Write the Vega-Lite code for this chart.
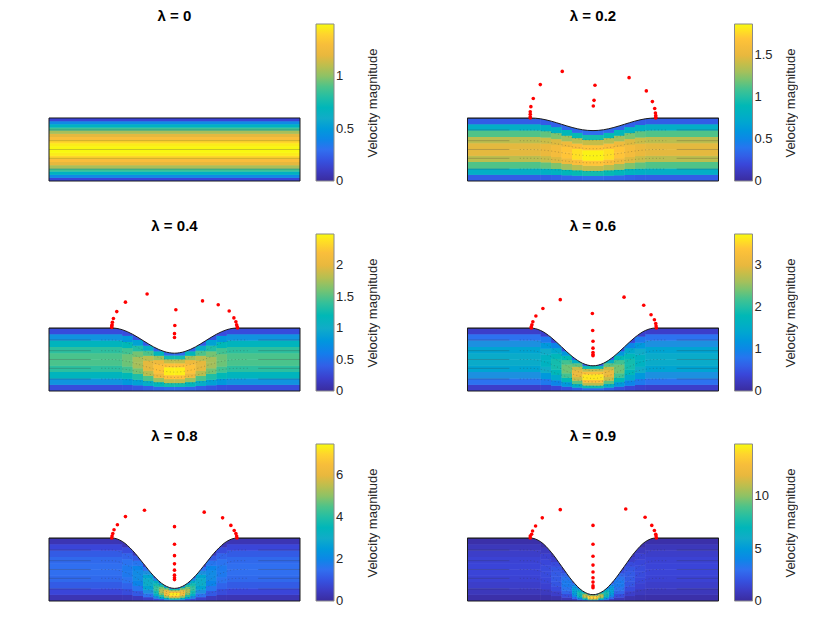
{"$schema":"https://vega.github.io/schema/vega-lite/v6.json","padding":{"left":47,"top":8,"right":0,"bottom":0},"bounds":"flush","columns":2,"spacing":{"row":53,"column":167.5},"resolve":{"scale":{"color":"independent"},"legend":{"color":"independent"}},
"config":{"view":{"stroke":null},"font":"Liberation Sans","title":{"font":"Liberation Sans","fontSize":15,"fontWeight":"bold","offset":0.1},"axisY":{"labels":false,"ticks":false,"domain":false,"grid":false,"titleAngle":270,"titlePadding":79,"titleFont":"Liberation Sans","titleFontSize":13,"titleFontWeight":"normal","titleColor":"#262626"},"legend":{"orient":"none","legendX":267,"legendY":0,"gradientLength":157,"gradientThickness":18,"gradientStrokeColor":"#8a8a8a","gradientStrokeWidth":1,"labelFont":"Liberation Sans","labelFontSize":13,"labelColor":"#262626","labelOffset":10}},
"datasets":{
"cells0":[{"x":-12,"x2":12,"y":0,"y2":5,"v":0.146},{"x":-12,"x2":12,"y":5,"y2":10,"v":0.416},{"x":-12,"x2":12,"y":10,"y2":15,"v":0.656},{"x":-12,"x2":12,"y":15,"y2":20,"v":0.866},{"x":-12,"x2":12,"y":20,"y2":25,"v":1.046},{"x":-12,"x2":12,"y":25,"y2":30,"v":1.196},{"x":-12,"x2":12,"y":30,"y2":35,"v":1.316},{"x":-12,"x2":12,"y":35,"y2":40,"v":1.406},{"x":-12,"x2":12,"y":40,"y2":45,"v":1.466},{"x":-12,"x2":12,"y":45,"y2":50,"v":1.496},{"x":-12,"x2":12,"y":50,"y2":55,"v":1.496},{"x":-12,"x2":12,"y":55,"y2":60,"v":1.466},{"x":-12,"x2":12,"y":60,"y2":65,"v":1.406},{"x":-12,"x2":12,"y":65,"y2":70,"v":1.316},{"x":-12,"x2":12,"y":70,"y2":75,"v":1.196},{"x":-12,"x2":12,"y":75,"y2":80,"v":1.046},{"x":-12,"x2":12,"y":80,"y2":85,"v":0.866},{"x":-12,"x2":12,"y":85,"y2":90,"v":0.656},{"x":-12,"x2":12,"y":90,"y2":95,"v":0.416},{"x":-12,"x2":12,"y":95,"y2":100,"v":0.146}],
"cells2":[
{"x":-12,"x2":-5,"y":0,"y2":10,"v":0.29},{"x":-12,"x2":-5,"y":10,"y2":20,"v":0.77},{"x":-12,"x2":-5,"y":20,"y2":30,"v":1.13},{"x":-12,"x2":-5,"y":30,"y2":40,"v":1.37},{"x":-12,"x2":-5,"y":40,"y2":50,"v":1.49},{"x":-12,"x2":-5,"y":50,"y2":60,"v":1.49},{"x":-12,"x2":-5,"y":60,"y2":70,"v":1.37},{"x":-12,"x2":-5,"y":70,"y2":80,"v":1.13},{"x":-12,"x2":-5,"y":80,"y2":90,"v":0.77},{"x":-12,"x2":-5,"y":90,"y2":100,"v":0.29},
{"x":5,"x2":12,"y":0,"y2":10,"v":0.29},{"x":5,"x2":12,"y":10,"y2":20,"v":0.77},{"x":5,"x2":12,"y":20,"y2":30,"v":1.13},{"x":5,"x2":12,"y":30,"y2":40,"v":1.37},{"x":5,"x2":12,"y":40,"y2":50,"v":1.49},{"x":5,"x2":12,"y":50,"y2":60,"v":1.49},{"x":5,"x2":12,"y":60,"y2":70,"v":1.37},{"x":5,"x2":12,"y":70,"y2":80,"v":1.13},{"x":5,"x2":12,"y":80,"y2":90,"v":0.77},{"x":5,"x2":12,"y":90,"y2":100,"v":0.29},
{"x":-5,"x2":-4,"y":0,"y2":9.9,"v":0.29},{"x":-5,"x2":-4,"y":9.9,"y2":19.7,"v":0.79},{"x":-5,"x2":-4,"y":19.7,"y2":29.6,"v":1.16},{"x":-5,"x2":-4,"y":29.6,"y2":39.5,"v":1.41},{"x":-5,"x2":-4,"y":39.5,"y2":49.4,"v":1.53},{"x":-5,"x2":-4,"y":49.4,"y2":59.2,"v":1.53},{"x":-5,"x2":-4,"y":59.2,"y2":69.1,"v":1.41},{"x":-5,"x2":-4,"y":69.1,"y2":79,"v":1.16},{"x":-5,"x2":-4,"y":79,"y2":88.8,"v":0.79},{"x":-5,"x2":-4,"y":88.8,"y2":98.7,"v":0.29},
{"x":4,"x2":5,"y":0,"y2":9.9,"v":0.29},{"x":4,"x2":5,"y":9.9,"y2":19.7,"v":0.79},{"x":4,"x2":5,"y":19.7,"y2":29.6,"v":1.16},{"x":4,"x2":5,"y":29.6,"y2":39.5,"v":1.41},{"x":4,"x2":5,"y":39.5,"y2":49.4,"v":1.53},{"x":4,"x2":5,"y":49.4,"y2":59.2,"v":1.53},{"x":4,"x2":5,"y":59.2,"y2":69.1,"v":1.41},{"x":4,"x2":5,"y":69.1,"y2":79,"v":1.16},{"x":4,"x2":5,"y":79,"y2":88.8,"v":0.79},{"x":4,"x2":5,"y":88.8,"y2":98.7,"v":0.29},
{"x":-4,"x2":-3,"y":0,"y2":9.5,"v":0.31},{"x":-4,"x2":-3,"y":9.5,"y2":19,"v":0.83},{"x":-4,"x2":-3,"y":19,"y2":28.5,"v":1.22},{"x":-4,"x2":-3,"y":28.5,"y2":38,"v":1.47},{"x":-4,"x2":-3,"y":38,"y2":47.5,"v":1.6},{"x":-4,"x2":-3,"y":47.5,"y2":57,"v":1.6},{"x":-4,"x2":-3,"y":57,"y2":66.5,"v":1.47},{"x":-4,"x2":-3,"y":66.5,"y2":76,"v":1.22},{"x":-4,"x2":-3,"y":76,"y2":85.5,"v":0.83},{"x":-4,"x2":-3,"y":85.5,"y2":95,"v":0.31},
{"x":3,"x2":4,"y":0,"y2":9.5,"v":0.31},{"x":3,"x2":4,"y":9.5,"y2":19,"v":0.83},{"x":3,"x2":4,"y":19,"y2":28.5,"v":1.22},{"x":3,"x2":4,"y":28.5,"y2":38,"v":1.47},{"x":3,"x2":4,"y":38,"y2":47.5,"v":1.6},{"x":3,"x2":4,"y":47.5,"y2":57,"v":1.6},{"x":3,"x2":4,"y":57,"y2":66.5,"v":1.47},{"x":3,"x2":4,"y":66.5,"y2":76,"v":1.22},{"x":3,"x2":4,"y":76,"y2":85.5,"v":0.83},{"x":3,"x2":4,"y":85.5,"y2":95,"v":0.31},
{"x":-3,"x2":-2,"y":0,"y2":9,"v":0.33},{"x":-3,"x2":-2,"y":9,"y2":18,"v":0.88},{"x":-3,"x2":-2,"y":18,"y2":27,"v":1.29},{"x":-3,"x2":-2,"y":27,"y2":36,"v":1.56},{"x":-3,"x2":-2,"y":36,"y2":45,"v":1.7},{"x":-3,"x2":-2,"y":45,"y2":54,"v":1.7},{"x":-3,"x2":-2,"y":54,"y2":63,"v":1.56},{"x":-3,"x2":-2,"y":63,"y2":72,"v":1.29},{"x":-3,"x2":-2,"y":72,"y2":81,"v":0.88},{"x":-3,"x2":-2,"y":81,"y2":90,"v":0.33},
{"x":2,"x2":3,"y":0,"y2":9,"v":0.33},{"x":2,"x2":3,"y":9,"y2":18,"v":0.88},{"x":2,"x2":3,"y":18,"y2":27,"v":1.29},{"x":2,"x2":3,"y":27,"y2":36,"v":1.56},{"x":2,"x2":3,"y":36,"y2":45,"v":1.7},{"x":2,"x2":3,"y":45,"y2":54,"v":1.7},{"x":2,"x2":3,"y":54,"y2":63,"v":1.56},{"x":2,"x2":3,"y":63,"y2":72,"v":1.29},{"x":2,"x2":3,"y":72,"y2":81,"v":0.88},{"x":2,"x2":3,"y":81,"y2":90,"v":0.33},
{"x":-2,"x2":-1,"y":0,"y2":8.5,"v":0.34},{"x":-2,"x2":-1,"y":8.5,"y2":17,"v":0.92},{"x":-2,"x2":-1,"y":17,"y2":25.5,"v":1.36},{"x":-2,"x2":-1,"y":25.5,"y2":34,"v":1.65},{"x":-2,"x2":-1,"y":34,"y2":42.5,"v":1.79},{"x":-2,"x2":-1,"y":42.5,"y2":51,"v":1.79},{"x":-2,"x2":-1,"y":51,"y2":59.5,"v":1.65},{"x":-2,"x2":-1,"y":59.5,"y2":68,"v":1.36},{"x":-2,"x2":-1,"y":68,"y2":76.5,"v":0.92},{"x":-2,"x2":-1,"y":76.5,"y2":85,"v":0.34},
{"x":1,"x2":2,"y":0,"y2":8.5,"v":0.34},{"x":1,"x2":2,"y":8.5,"y2":17,"v":0.92},{"x":1,"x2":2,"y":17,"y2":25.5,"v":1.36},{"x":1,"x2":2,"y":25.5,"y2":34,"v":1.65},{"x":1,"x2":2,"y":34,"y2":42.5,"v":1.79},{"x":1,"x2":2,"y":42.5,"y2":51,"v":1.79},{"x":1,"x2":2,"y":51,"y2":59.5,"v":1.65},{"x":1,"x2":2,"y":59.5,"y2":68,"v":1.36},{"x":1,"x2":2,"y":68,"y2":76.5,"v":0.92},{"x":1,"x2":2,"y":76.5,"y2":85,"v":0.34},
{"x":-1,"x2":0,"y":0,"y2":8.1,"v":0.36},{"x":-1,"x2":0,"y":8.1,"y2":16.3,"v":0.95},{"x":-1,"x2":0,"y":16.3,"y2":24.4,"v":1.4},{"x":-1,"x2":0,"y":24.4,"y2":32.5,"v":1.7},{"x":-1,"x2":0,"y":32.5,"y2":40.7,"v":1.85},{"x":-1,"x2":0,"y":40.7,"y2":48.8,"v":1.85},{"x":-1,"x2":0,"y":48.8,"y2":56.9,"v":1.7},{"x":-1,"x2":0,"y":56.9,"y2":65,"v":1.4},{"x":-1,"x2":0,"y":65,"y2":73.2,"v":0.95},{"x":-1,"x2":0,"y":73.2,"y2":81.3,"v":0.36},
{"x":0,"x2":1,"y":0,"y2":8.1,"v":0.36},{"x":0,"x2":1,"y":8.1,"y2":16.3,"v":0.95},{"x":0,"x2":1,"y":16.3,"y2":24.4,"v":1.4},{"x":0,"x2":1,"y":24.4,"y2":32.5,"v":1.7},{"x":0,"x2":1,"y":32.5,"y2":40.7,"v":1.85},{"x":0,"x2":1,"y":40.7,"y2":48.8,"v":1.85},{"x":0,"x2":1,"y":48.8,"y2":56.9,"v":1.7},{"x":0,"x2":1,"y":56.9,"y2":65,"v":1.4},{"x":0,"x2":1,"y":65,"y2":73.2,"v":0.95},{"x":0,"x2":1,"y":73.2,"y2":81.3,"v":0.36}],
"cells4":[
{"x":-12,"x2":-5,"y":0,"y2":10,"v":0.29},{"x":-12,"x2":-5,"y":10,"y2":20,"v":0.77},{"x":-12,"x2":-5,"y":20,"y2":30,"v":1.13},{"x":-12,"x2":-5,"y":30,"y2":40,"v":1.37},{"x":-12,"x2":-5,"y":40,"y2":50,"v":1.49},{"x":-12,"x2":-5,"y":50,"y2":60,"v":1.49},{"x":-12,"x2":-5,"y":60,"y2":70,"v":1.37},{"x":-12,"x2":-5,"y":70,"y2":80,"v":1.13},{"x":-12,"x2":-5,"y":80,"y2":90,"v":0.77},{"x":-12,"x2":-5,"y":90,"y2":100,"v":0.29},
{"x":5,"x2":12,"y":0,"y2":10,"v":0.29},{"x":5,"x2":12,"y":10,"y2":20,"v":0.77},{"x":5,"x2":12,"y":20,"y2":30,"v":1.13},{"x":5,"x2":12,"y":30,"y2":40,"v":1.37},{"x":5,"x2":12,"y":40,"y2":50,"v":1.49},{"x":5,"x2":12,"y":50,"y2":60,"v":1.49},{"x":5,"x2":12,"y":60,"y2":70,"v":1.37},{"x":5,"x2":12,"y":70,"y2":80,"v":1.13},{"x":5,"x2":12,"y":80,"y2":90,"v":0.77},{"x":5,"x2":12,"y":90,"y2":100,"v":0.29},
{"x":-5,"x2":-4,"y":0,"y2":9.7,"v":0.3},{"x":-5,"x2":-4,"y":9.7,"y2":19.5,"v":0.81},{"x":-5,"x2":-4,"y":19.5,"y2":29.2,"v":1.19},{"x":-5,"x2":-4,"y":29.2,"y2":38.9,"v":1.45},{"x":-5,"x2":-4,"y":38.9,"y2":48.7,"v":1.58},{"x":-5,"x2":-4,"y":48.7,"y2":58.4,"v":1.58},{"x":-5,"x2":-4,"y":58.4,"y2":68.1,"v":1.45},{"x":-5,"x2":-4,"y":68.1,"y2":77.8,"v":1.19},{"x":-5,"x2":-4,"y":77.8,"y2":87.6,"v":0.81},{"x":-5,"x2":-4,"y":87.6,"y2":97.3,"v":0.3},
{"x":4,"x2":5,"y":0,"y2":9.7,"v":0.3},{"x":4,"x2":5,"y":9.7,"y2":19.5,"v":0.81},{"x":4,"x2":5,"y":19.5,"y2":29.2,"v":1.19},{"x":4,"x2":5,"y":29.2,"y2":38.9,"v":1.45},{"x":4,"x2":5,"y":38.9,"y2":48.7,"v":1.58},{"x":4,"x2":5,"y":48.7,"y2":58.4,"v":1.58},{"x":4,"x2":5,"y":58.4,"y2":68.1,"v":1.45},{"x":4,"x2":5,"y":68.1,"y2":77.8,"v":1.19},{"x":4,"x2":5,"y":77.8,"y2":87.6,"v":0.81},{"x":4,"x2":5,"y":87.6,"y2":97.3,"v":0.3},
{"x":-4,"x2":-3,"y":0,"y2":9,"v":0.33},{"x":-4,"x2":-3,"y":9,"y2":18,"v":0.9},{"x":-4,"x2":-3,"y":18,"y2":27,"v":1.32},{"x":-4,"x2":-3,"y":27,"y2":36,"v":1.6},{"x":-4,"x2":-3,"y":36,"y2":45,"v":1.74},{"x":-4,"x2":-3,"y":45,"y2":54,"v":1.74},{"x":-4,"x2":-3,"y":54,"y2":63,"v":1.6},{"x":-4,"x2":-3,"y":63,"y2":72,"v":1.32},{"x":-4,"x2":-3,"y":72,"y2":81,"v":0.9},{"x":-4,"x2":-3,"y":81,"y2":90,"v":0.33},
{"x":3,"x2":4,"y":0,"y2":9,"v":0.33},{"x":3,"x2":4,"y":9,"y2":18,"v":0.9},{"x":3,"x2":4,"y":18,"y2":27,"v":1.32},{"x":3,"x2":4,"y":27,"y2":36,"v":1.6},{"x":3,"x2":4,"y":36,"y2":45,"v":1.74},{"x":3,"x2":4,"y":45,"y2":54,"v":1.74},{"x":3,"x2":4,"y":54,"y2":63,"v":1.6},{"x":3,"x2":4,"y":63,"y2":72,"v":1.32},{"x":3,"x2":4,"y":72,"y2":81,"v":0.9},{"x":3,"x2":4,"y":81,"y2":90,"v":0.33},
{"x":-3,"x2":-2,"y":0,"y2":8,"v":0.38},{"x":-3,"x2":-2,"y":8,"y2":16,"v":1.02},{"x":-3,"x2":-2,"y":16,"y2":24,"v":1.5},{"x":-3,"x2":-2,"y":24,"y2":32,"v":1.82},{"x":-3,"x2":-2,"y":32,"y2":40,"v":1.99},{"x":-3,"x2":-2,"y":40,"y2":48,"v":1.99},{"x":-3,"x2":-2,"y":48,"y2":56,"v":1.82},{"x":-3,"x2":-2,"y":56,"y2":64,"v":1.5},{"x":-3,"x2":-2,"y":64,"y2":72,"v":1.02},{"x":-3,"x2":-2,"y":72,"y2":80,"v":0.38},
{"x":2,"x2":3,"y":0,"y2":8,"v":0.38},{"x":2,"x2":3,"y":8,"y2":16,"v":1.02},{"x":2,"x2":3,"y":16,"y2":24,"v":1.5},{"x":2,"x2":3,"y":24,"y2":32,"v":1.82},{"x":2,"x2":3,"y":32,"y2":40,"v":1.99},{"x":2,"x2":3,"y":40,"y2":48,"v":1.99},{"x":2,"x2":3,"y":48,"y2":56,"v":1.82},{"x":2,"x2":3,"y":56,"y2":64,"v":1.5},{"x":2,"x2":3,"y":64,"y2":72,"v":1.02},{"x":2,"x2":3,"y":72,"y2":80,"v":0.38},
{"x":-2,"x2":-1,"y":0,"y2":7,"v":0.43},{"x":-2,"x2":-1,"y":7,"y2":14,"v":1.16},{"x":-2,"x2":-1,"y":14,"y2":21,"v":1.71},{"x":-2,"x2":-1,"y":21,"y2":28,"v":2.07},{"x":-2,"x2":-1,"y":28,"y2":35,"v":2.26},{"x":-2,"x2":-1,"y":35,"y2":42,"v":2.26},{"x":-2,"x2":-1,"y":42,"y2":49,"v":2.07},{"x":-2,"x2":-1,"y":49,"y2":56,"v":1.71},{"x":-2,"x2":-1,"y":56,"y2":63,"v":1.16},{"x":-2,"x2":-1,"y":63,"y2":70,"v":0.43},
{"x":1,"x2":2,"y":0,"y2":7,"v":0.43},{"x":1,"x2":2,"y":7,"y2":14,"v":1.16},{"x":1,"x2":2,"y":14,"y2":21,"v":1.71},{"x":1,"x2":2,"y":21,"y2":28,"v":2.07},{"x":1,"x2":2,"y":28,"y2":35,"v":2.26},{"x":1,"x2":2,"y":35,"y2":42,"v":2.26},{"x":1,"x2":2,"y":42,"y2":49,"v":2.07},{"x":1,"x2":2,"y":49,"y2":56,"v":1.71},{"x":1,"x2":2,"y":56,"y2":63,"v":1.16},{"x":1,"x2":2,"y":63,"y2":70,"v":0.43},
{"x":-1,"x2":0,"y":0,"y2":6.3,"v":0.47},{"x":-1,"x2":0,"y":6.3,"y2":12.5,"v":1.26},{"x":-1,"x2":0,"y":12.5,"y2":18.8,"v":1.85},{"x":-1,"x2":0,"y":18.8,"y2":25.1,"v":2.25},{"x":-1,"x2":0,"y":25.1,"y2":31.4,"v":2.45},{"x":-1,"x2":0,"y":31.4,"y2":37.6,"v":2.45},{"x":-1,"x2":0,"y":37.6,"y2":43.9,"v":2.25},{"x":-1,"x2":0,"y":43.9,"y2":50.2,"v":1.85},{"x":-1,"x2":0,"y":50.2,"y2":56.4,"v":1.26},{"x":-1,"x2":0,"y":56.4,"y2":62.7,"v":0.47},
{"x":0,"x2":1,"y":0,"y2":6.3,"v":0.47},{"x":0,"x2":1,"y":6.3,"y2":12.5,"v":1.26},{"x":0,"x2":1,"y":12.5,"y2":18.8,"v":1.85},{"x":0,"x2":1,"y":18.8,"y2":25.1,"v":2.25},{"x":0,"x2":1,"y":25.1,"y2":31.4,"v":2.45},{"x":0,"x2":1,"y":31.4,"y2":37.6,"v":2.45},{"x":0,"x2":1,"y":37.6,"y2":43.9,"v":2.25},{"x":0,"x2":1,"y":43.9,"y2":50.2,"v":1.85},{"x":0,"x2":1,"y":50.2,"y2":56.4,"v":1.26},{"x":0,"x2":1,"y":56.4,"y2":62.7,"v":0.47}],
"cells6":[
{"x":-12,"x2":-5,"y":0,"y2":10,"v":0.29},{"x":-12,"x2":-5,"y":10,"y2":20,"v":0.77},{"x":-12,"x2":-5,"y":20,"y2":30,"v":1.13},{"x":-12,"x2":-5,"y":30,"y2":40,"v":1.37},{"x":-12,"x2":-5,"y":40,"y2":50,"v":1.49},{"x":-12,"x2":-5,"y":50,"y2":60,"v":1.49},{"x":-12,"x2":-5,"y":60,"y2":70,"v":1.37},{"x":-12,"x2":-5,"y":70,"y2":80,"v":1.13},{"x":-12,"x2":-5,"y":80,"y2":90,"v":0.77},{"x":-12,"x2":-5,"y":90,"y2":100,"v":0.29},
{"x":5,"x2":12,"y":0,"y2":10,"v":0.29},{"x":5,"x2":12,"y":10,"y2":20,"v":0.77},{"x":5,"x2":12,"y":20,"y2":30,"v":1.13},{"x":5,"x2":12,"y":30,"y2":40,"v":1.37},{"x":5,"x2":12,"y":40,"y2":50,"v":1.49},{"x":5,"x2":12,"y":50,"y2":60,"v":1.49},{"x":5,"x2":12,"y":60,"y2":70,"v":1.37},{"x":5,"x2":12,"y":70,"y2":80,"v":1.13},{"x":5,"x2":12,"y":80,"y2":90,"v":0.77},{"x":5,"x2":12,"y":90,"y2":100,"v":0.29},
{"x":-5,"x2":-4,"y":0,"y2":9.6,"v":0.31},{"x":-5,"x2":-4,"y":9.6,"y2":19.2,"v":0.84},{"x":-5,"x2":-4,"y":19.2,"y2":28.8,"v":1.23},{"x":-5,"x2":-4,"y":28.8,"y2":38.4,"v":1.5},{"x":-5,"x2":-4,"y":38.4,"y2":48,"v":1.63},{"x":-5,"x2":-4,"y":48,"y2":57.6,"v":1.63},{"x":-5,"x2":-4,"y":57.6,"y2":67.2,"v":1.5},{"x":-5,"x2":-4,"y":67.2,"y2":76.8,"v":1.23},{"x":-5,"x2":-4,"y":76.8,"y2":86.4,"v":0.84},{"x":-5,"x2":-4,"y":86.4,"y2":96,"v":0.31},
{"x":4,"x2":5,"y":0,"y2":9.6,"v":0.31},{"x":4,"x2":5,"y":9.6,"y2":19.2,"v":0.84},{"x":4,"x2":5,"y":19.2,"y2":28.8,"v":1.23},{"x":4,"x2":5,"y":28.8,"y2":38.4,"v":1.5},{"x":4,"x2":5,"y":38.4,"y2":48,"v":1.63},{"x":4,"x2":5,"y":48,"y2":57.6,"v":1.63},{"x":4,"x2":5,"y":57.6,"y2":67.2,"v":1.5},{"x":4,"x2":5,"y":67.2,"y2":76.8,"v":1.23},{"x":4,"x2":5,"y":76.8,"y2":86.4,"v":0.84},{"x":4,"x2":5,"y":86.4,"y2":96,"v":0.31},
{"x":-4,"x2":-3,"y":0,"y2":8.5,"v":0.37},{"x":-4,"x2":-3,"y":8.5,"y2":17,"v":0.98},{"x":-4,"x2":-3,"y":17,"y2":25.5,"v":1.45},{"x":-4,"x2":-3,"y":25.5,"y2":34,"v":1.76},{"x":-4,"x2":-3,"y":34,"y2":42.5,"v":1.91},{"x":-4,"x2":-3,"y":42.5,"y2":51,"v":1.91},{"x":-4,"x2":-3,"y":51,"y2":59.5,"v":1.76},{"x":-4,"x2":-3,"y":59.5,"y2":68,"v":1.45},{"x":-4,"x2":-3,"y":68,"y2":76.5,"v":0.98},{"x":-4,"x2":-3,"y":76.5,"y2":85,"v":0.37},
{"x":3,"x2":4,"y":0,"y2":8.5,"v":0.37},{"x":3,"x2":4,"y":8.5,"y2":17,"v":0.98},{"x":3,"x2":4,"y":17,"y2":25.5,"v":1.45},{"x":3,"x2":4,"y":25.5,"y2":34,"v":1.76},{"x":3,"x2":4,"y":34,"y2":42.5,"v":1.91},{"x":3,"x2":4,"y":42.5,"y2":51,"v":1.91},{"x":3,"x2":4,"y":51,"y2":59.5,"v":1.76},{"x":3,"x2":4,"y":59.5,"y2":68,"v":1.45},{"x":3,"x2":4,"y":68,"y2":76.5,"v":0.98},{"x":3,"x2":4,"y":76.5,"y2":85,"v":0.37},
{"x":-3,"x2":-2,"y":0,"y2":7,"v":0.46},{"x":-3,"x2":-2,"y":7,"y2":14,"v":1.23},{"x":-3,"x2":-2,"y":14,"y2":21,"v":1.81},{"x":-3,"x2":-2,"y":21,"y2":28,"v":2.19},{"x":-3,"x2":-2,"y":28,"y2":35,"v":2.38},{"x":-3,"x2":-2,"y":35,"y2":42,"v":2.38},{"x":-3,"x2":-2,"y":42,"y2":49,"v":2.19},{"x":-3,"x2":-2,"y":49,"y2":56,"v":1.81},{"x":-3,"x2":-2,"y":56,"y2":63,"v":1.23},{"x":-3,"x2":-2,"y":63,"y2":70,"v":0.46},
{"x":2,"x2":3,"y":0,"y2":7,"v":0.46},{"x":2,"x2":3,"y":7,"y2":14,"v":1.23},{"x":2,"x2":3,"y":14,"y2":21,"v":1.81},{"x":2,"x2":3,"y":21,"y2":28,"v":2.19},{"x":2,"x2":3,"y":28,"y2":35,"v":2.38},{"x":2,"x2":3,"y":35,"y2":42,"v":2.38},{"x":2,"x2":3,"y":42,"y2":49,"v":2.19},{"x":2,"x2":3,"y":49,"y2":56,"v":1.81},{"x":2,"x2":3,"y":56,"y2":63,"v":1.23},{"x":2,"x2":3,"y":63,"y2":70,"v":0.46},
{"x":-2,"x2":-1,"y":0,"y2":5.5,"v":0.58},{"x":-2,"x2":-1,"y":5.5,"y2":11,"v":1.57},{"x":-2,"x2":-1,"y":11,"y2":16.5,"v":2.31},{"x":-2,"x2":-1,"y":16.5,"y2":22,"v":2.8},{"x":-2,"x2":-1,"y":22,"y2":27.5,"v":3.04},{"x":-2,"x2":-1,"y":27.5,"y2":33,"v":3.04},{"x":-2,"x2":-1,"y":33,"y2":38.5,"v":2.8},{"x":-2,"x2":-1,"y":38.5,"y2":44,"v":2.31},{"x":-2,"x2":-1,"y":44,"y2":49.5,"v":1.57},{"x":-2,"x2":-1,"y":49.5,"y2":55,"v":0.58},
{"x":1,"x2":2,"y":0,"y2":5.5,"v":0.58},{"x":1,"x2":2,"y":5.5,"y2":11,"v":1.57},{"x":1,"x2":2,"y":11,"y2":16.5,"v":2.31},{"x":1,"x2":2,"y":16.5,"y2":22,"v":2.8},{"x":1,"x2":2,"y":22,"y2":27.5,"v":3.04},{"x":1,"x2":2,"y":27.5,"y2":33,"v":3.04},{"x":1,"x2":2,"y":33,"y2":38.5,"v":2.8},{"x":1,"x2":2,"y":38.5,"y2":44,"v":2.31},{"x":1,"x2":2,"y":44,"y2":49.5,"v":1.57},{"x":1,"x2":2,"y":49.5,"y2":55,"v":0.58},
{"x":-1,"x2":0,"y":0,"y2":4.4,"v":0.7},{"x":-1,"x2":0,"y":4.4,"y2":8.8,"v":1.87},{"x":-1,"x2":0,"y":8.8,"y2":13.2,"v":2.74},{"x":-1,"x2":0,"y":13.2,"y2":17.6,"v":3.33},{"x":-1,"x2":0,"y":17.6,"y2":22,"v":3.62},{"x":-1,"x2":0,"y":22,"y2":26.4,"v":3.62},{"x":-1,"x2":0,"y":26.4,"y2":30.8,"v":3.33},{"x":-1,"x2":0,"y":30.8,"y2":35.2,"v":2.74},{"x":-1,"x2":0,"y":35.2,"y2":39.6,"v":1.87},{"x":-1,"x2":0,"y":39.6,"y2":44,"v":0.7},
{"x":0,"x2":1,"y":0,"y2":4.4,"v":0.7},{"x":0,"x2":1,"y":4.4,"y2":8.8,"v":1.87},{"x":0,"x2":1,"y":8.8,"y2":13.2,"v":2.74},{"x":0,"x2":1,"y":13.2,"y2":17.6,"v":3.33},{"x":0,"x2":1,"y":17.6,"y2":22,"v":3.62},{"x":0,"x2":1,"y":22,"y2":26.4,"v":3.62},{"x":0,"x2":1,"y":26.4,"y2":30.8,"v":3.33},{"x":0,"x2":1,"y":30.8,"y2":35.2,"v":2.74},{"x":0,"x2":1,"y":35.2,"y2":39.6,"v":1.87},{"x":0,"x2":1,"y":39.6,"y2":44,"v":0.7}],
"cells8":[
{"x":-12,"x2":-5,"y":0,"y2":10,"v":0.29},{"x":-12,"x2":-5,"y":10,"y2":20,"v":0.77},{"x":-12,"x2":-5,"y":20,"y2":30,"v":1.13},{"x":-12,"x2":-5,"y":30,"y2":40,"v":1.37},{"x":-12,"x2":-5,"y":40,"y2":50,"v":1.49},{"x":-12,"x2":-5,"y":50,"y2":60,"v":1.49},{"x":-12,"x2":-5,"y":60,"y2":70,"v":1.37},{"x":-12,"x2":-5,"y":70,"y2":80,"v":1.13},{"x":-12,"x2":-5,"y":80,"y2":90,"v":0.77},{"x":-12,"x2":-5,"y":90,"y2":100,"v":0.29},
{"x":5,"x2":12,"y":0,"y2":10,"v":0.29},{"x":5,"x2":12,"y":10,"y2":20,"v":0.77},{"x":5,"x2":12,"y":20,"y2":30,"v":1.13},{"x":5,"x2":12,"y":30,"y2":40,"v":1.37},{"x":5,"x2":12,"y":40,"y2":50,"v":1.49},{"x":5,"x2":12,"y":50,"y2":60,"v":1.49},{"x":5,"x2":12,"y":60,"y2":70,"v":1.37},{"x":5,"x2":12,"y":70,"y2":80,"v":1.13},{"x":5,"x2":12,"y":80,"y2":90,"v":0.77},{"x":5,"x2":12,"y":90,"y2":100,"v":0.29},
{"x":-5,"x2":-4,"y":0,"y2":9.5,"v":0.32},{"x":-5,"x2":-4,"y":9.5,"y2":18.9,"v":0.87},{"x":-5,"x2":-4,"y":18.9,"y2":28.4,"v":1.27},{"x":-5,"x2":-4,"y":28.4,"y2":37.8,"v":1.55},{"x":-5,"x2":-4,"y":37.8,"y2":47.3,"v":1.68},{"x":-5,"x2":-4,"y":47.3,"y2":56.8,"v":1.68},{"x":-5,"x2":-4,"y":56.8,"y2":66.2,"v":1.55},{"x":-5,"x2":-4,"y":66.2,"y2":75.7,"v":1.27},{"x":-5,"x2":-4,"y":75.7,"y2":85.1,"v":0.87},{"x":-5,"x2":-4,"y":85.1,"y2":94.6,"v":0.32},
{"x":4,"x2":5,"y":0,"y2":9.5,"v":0.32},{"x":4,"x2":5,"y":9.5,"y2":18.9,"v":0.87},{"x":4,"x2":5,"y":18.9,"y2":28.4,"v":1.27},{"x":4,"x2":5,"y":28.4,"y2":37.8,"v":1.55},{"x":4,"x2":5,"y":37.8,"y2":47.3,"v":1.68},{"x":4,"x2":5,"y":47.3,"y2":56.8,"v":1.68},{"x":4,"x2":5,"y":56.8,"y2":66.2,"v":1.55},{"x":4,"x2":5,"y":66.2,"y2":75.7,"v":1.27},{"x":4,"x2":5,"y":75.7,"y2":85.1,"v":0.87},{"x":4,"x2":5,"y":85.1,"y2":94.6,"v":0.32},
{"x":-4,"x2":-3,"y":0,"y2":8,"v":0.41},{"x":-4,"x2":-3,"y":8,"y2":16,"v":1.09},{"x":-4,"x2":-3,"y":16,"y2":24,"v":1.6},{"x":-4,"x2":-3,"y":24,"y2":32,"v":1.94},{"x":-4,"x2":-3,"y":32,"y2":40,"v":2.11},{"x":-4,"x2":-3,"y":40,"y2":48,"v":2.11},{"x":-4,"x2":-3,"y":48,"y2":56,"v":1.94},{"x":-4,"x2":-3,"y":56,"y2":64,"v":1.6},{"x":-4,"x2":-3,"y":64,"y2":72,"v":1.09},{"x":-4,"x2":-3,"y":72,"y2":80,"v":0.41},
{"x":3,"x2":4,"y":0,"y2":8,"v":0.41},{"x":3,"x2":4,"y":8,"y2":16,"v":1.09},{"x":3,"x2":4,"y":16,"y2":24,"v":1.6},{"x":3,"x2":4,"y":24,"y2":32,"v":1.94},{"x":3,"x2":4,"y":32,"y2":40,"v":2.11},{"x":3,"x2":4,"y":40,"y2":48,"v":2.11},{"x":3,"x2":4,"y":48,"y2":56,"v":1.94},{"x":3,"x2":4,"y":56,"y2":64,"v":1.6},{"x":3,"x2":4,"y":64,"y2":72,"v":1.09},{"x":3,"x2":4,"y":72,"y2":80,"v":0.41},
{"x":-3,"x2":-2,"y":0,"y2":6,"v":0.57},{"x":-3,"x2":-2,"y":6,"y2":12,"v":1.54},{"x":-3,"x2":-2,"y":12,"y2":18,"v":2.26},{"x":-3,"x2":-2,"y":18,"y2":24,"v":2.75},{"x":-3,"x2":-2,"y":24,"y2":30,"v":2.99},{"x":-3,"x2":-2,"y":30,"y2":36,"v":2.99},{"x":-3,"x2":-2,"y":36,"y2":42,"v":2.75},{"x":-3,"x2":-2,"y":42,"y2":48,"v":2.26},{"x":-3,"x2":-2,"y":48,"y2":54,"v":1.54},{"x":-3,"x2":-2,"y":54,"y2":60,"v":0.57},
{"x":2,"x2":3,"y":0,"y2":6,"v":0.57},{"x":2,"x2":3,"y":6,"y2":12,"v":1.54},{"x":2,"x2":3,"y":12,"y2":18,"v":2.26},{"x":2,"x2":3,"y":18,"y2":24,"v":2.75},{"x":2,"x2":3,"y":24,"y2":30,"v":2.99},{"x":2,"x2":3,"y":30,"y2":36,"v":2.99},{"x":2,"x2":3,"y":36,"y2":42,"v":2.75},{"x":2,"x2":3,"y":42,"y2":48,"v":2.26},{"x":2,"x2":3,"y":48,"y2":54,"v":1.54},{"x":2,"x2":3,"y":54,"y2":60,"v":0.57},
{"x":-2,"x2":-1.5,"y":0,"y2":4,"v":0.8},{"x":-2,"x2":-1.5,"y":4,"y2":8,"v":2.14},{"x":-2,"x2":-1.5,"y":8,"y2":12,"v":3.15},{"x":-2,"x2":-1.5,"y":12,"y2":16,"v":3.82},{"x":-2,"x2":-1.5,"y":16,"y2":20,"v":4.16},{"x":-2,"x2":-1.5,"y":20,"y2":24,"v":4.16},{"x":-2,"x2":-1.5,"y":24,"y2":28,"v":3.82},{"x":-2,"x2":-1.5,"y":28,"y2":32,"v":3.15},{"x":-2,"x2":-1.5,"y":32,"y2":36,"v":2.14},{"x":-2,"x2":-1.5,"y":36,"y2":40,"v":0.8},
{"x":1.5,"x2":2,"y":0,"y2":4,"v":0.8},{"x":1.5,"x2":2,"y":4,"y2":8,"v":2.14},{"x":1.5,"x2":2,"y":8,"y2":12,"v":3.15},{"x":1.5,"x2":2,"y":12,"y2":16,"v":3.82},{"x":1.5,"x2":2,"y":16,"y2":20,"v":4.16},{"x":1.5,"x2":2,"y":20,"y2":24,"v":4.16},{"x":1.5,"x2":2,"y":24,"y2":28,"v":3.82},{"x":1.5,"x2":2,"y":28,"y2":32,"v":3.15},{"x":1.5,"x2":2,"y":32,"y2":36,"v":2.14},{"x":1.5,"x2":2,"y":36,"y2":40,"v":0.8},
{"x":-1.5,"x2":-1,"y":0,"y2":3.2,"v":1.01},{"x":-1.5,"x2":-1,"y":3.2,"y2":6.3,"v":2.71},{"x":-1.5,"x2":-1,"y":6.3,"y2":9.5,"v":3.99},{"x":-1.5,"x2":-1,"y":9.5,"y2":12.7,"v":4.84},{"x":-1.5,"x2":-1,"y":12.7,"y2":15.9,"v":5.27},{"x":-1.5,"x2":-1,"y":15.9,"y2":19,"v":5.27},{"x":-1.5,"x2":-1,"y":19,"y2":22.2,"v":4.84},{"x":-1.5,"x2":-1,"y":22.2,"y2":25.4,"v":3.99},{"x":-1.5,"x2":-1,"y":25.4,"y2":28.5,"v":2.71},{"x":-1.5,"x2":-1,"y":28.5,"y2":31.7,"v":1.01},
{"x":1,"x2":1.5,"y":0,"y2":3.2,"v":1.01},{"x":1,"x2":1.5,"y":3.2,"y2":6.3,"v":2.71},{"x":1,"x2":1.5,"y":6.3,"y2":9.5,"v":3.99},{"x":1,"x2":1.5,"y":9.5,"y2":12.7,"v":4.84},{"x":1,"x2":1.5,"y":12.7,"y2":15.9,"v":5.27},{"x":1,"x2":1.5,"y":15.9,"y2":19,"v":5.27},{"x":1,"x2":1.5,"y":19,"y2":22.2,"v":4.84},{"x":1,"x2":1.5,"y":22.2,"y2":25.4,"v":3.99},{"x":1,"x2":1.5,"y":25.4,"y2":28.5,"v":2.71},{"x":1,"x2":1.5,"y":28.5,"y2":31.7,"v":1.01},
{"x":-1,"x2":-0.5,"y":0,"y2":2.5,"v":1.24},{"x":-1,"x2":-0.5,"y":2.5,"y2":5.1,"v":3.33},{"x":-1,"x2":-0.5,"y":5.1,"y2":7.6,"v":4.89},{"x":-1,"x2":-0.5,"y":7.6,"y2":10.2,"v":5.94},{"x":-1,"x2":-0.5,"y":10.2,"y2":12.7,"v":6.46},{"x":-1,"x2":-0.5,"y":12.7,"y2":15.2,"v":6.46},{"x":-1,"x2":-0.5,"y":15.2,"y2":17.8,"v":5.94},{"x":-1,"x2":-0.5,"y":17.8,"y2":20.3,"v":4.89},{"x":-1,"x2":-0.5,"y":20.3,"y2":22.9,"v":3.33},{"x":-1,"x2":-0.5,"y":22.9,"y2":25.4,"v":1.24},
{"x":0.5,"x2":1,"y":0,"y2":2.5,"v":1.24},{"x":0.5,"x2":1,"y":2.5,"y2":5.1,"v":3.33},{"x":0.5,"x2":1,"y":5.1,"y2":7.6,"v":4.89},{"x":0.5,"x2":1,"y":7.6,"y2":10.2,"v":5.94},{"x":0.5,"x2":1,"y":10.2,"y2":12.7,"v":6.46},{"x":0.5,"x2":1,"y":12.7,"y2":15.2,"v":6.46},{"x":0.5,"x2":1,"y":15.2,"y2":17.8,"v":5.94},{"x":0.5,"x2":1,"y":17.8,"y2":20.3,"v":4.89},{"x":0.5,"x2":1,"y":20.3,"y2":22.9,"v":3.33},{"x":0.5,"x2":1,"y":22.9,"y2":25.4,"v":1.24},
{"x":-0.5,"x2":0.5,"y":0,"y2":2.1,"v":1.4},{"x":-0.5,"x2":0.5,"y":2.1,"y2":4.3,"v":3.77},{"x":-0.5,"x2":0.5,"y":4.3,"y2":6.4,"v":5.54},{"x":-0.5,"x2":0.5,"y":6.4,"y2":8.6,"v":6.72},{"x":-0.5,"x2":0.5,"y":8.6,"y2":10.7,"v":7.32},{"x":-0.5,"x2":0.5,"y":10.7,"y2":12.8,"v":7.32},{"x":-0.5,"x2":0.5,"y":12.8,"y2":15,"v":6.72},{"x":-0.5,"x2":0.5,"y":15,"y2":17.1,"v":5.54},{"x":-0.5,"x2":0.5,"y":17.1,"y2":19.3,"v":3.77},{"x":-0.5,"x2":0.5,"y":19.3,"y2":21.4,"v":1.4}],
"cells9":[
{"x":-12,"x2":-5,"y":0,"y2":10,"v":0.29},{"x":-12,"x2":-5,"y":10,"y2":20,"v":0.77},{"x":-12,"x2":-5,"y":20,"y2":30,"v":1.13},{"x":-12,"x2":-5,"y":30,"y2":40,"v":1.37},{"x":-12,"x2":-5,"y":40,"y2":50,"v":1.49},{"x":-12,"x2":-5,"y":50,"y2":60,"v":1.49},{"x":-12,"x2":-5,"y":60,"y2":70,"v":1.37},{"x":-12,"x2":-5,"y":70,"y2":80,"v":1.13},{"x":-12,"x2":-5,"y":80,"y2":90,"v":0.77},{"x":-12,"x2":-5,"y":90,"y2":100,"v":0.29},
{"x":5,"x2":12,"y":0,"y2":10,"v":0.29},{"x":5,"x2":12,"y":10,"y2":20,"v":0.77},{"x":5,"x2":12,"y":20,"y2":30,"v":1.13},{"x":5,"x2":12,"y":30,"y2":40,"v":1.37},{"x":5,"x2":12,"y":40,"y2":50,"v":1.49},{"x":5,"x2":12,"y":50,"y2":60,"v":1.49},{"x":5,"x2":12,"y":60,"y2":70,"v":1.37},{"x":5,"x2":12,"y":70,"y2":80,"v":1.13},{"x":5,"x2":12,"y":80,"y2":90,"v":0.77},{"x":5,"x2":12,"y":90,"y2":100,"v":0.29},
{"x":-5,"x2":-4,"y":0,"y2":9.4,"v":0.33},{"x":-5,"x2":-4,"y":9.4,"y2":18.8,"v":0.88},{"x":-5,"x2":-4,"y":18.8,"y2":28.2,"v":1.29},{"x":-5,"x2":-4,"y":28.2,"y2":37.6,"v":1.57},{"x":-5,"x2":-4,"y":37.6,"y2":47,"v":1.71},{"x":-5,"x2":-4,"y":47,"y2":56.4,"v":1.71},{"x":-5,"x2":-4,"y":56.4,"y2":65.8,"v":1.57},{"x":-5,"x2":-4,"y":65.8,"y2":75.2,"v":1.29},{"x":-5,"x2":-4,"y":75.2,"y2":84.6,"v":0.88},{"x":-5,"x2":-4,"y":84.6,"y2":94,"v":0.33},
{"x":4,"x2":5,"y":0,"y2":9.4,"v":0.33},{"x":4,"x2":5,"y":9.4,"y2":18.8,"v":0.88},{"x":4,"x2":5,"y":18.8,"y2":28.2,"v":1.29},{"x":4,"x2":5,"y":28.2,"y2":37.6,"v":1.57},{"x":4,"x2":5,"y":37.6,"y2":47,"v":1.71},{"x":4,"x2":5,"y":47,"y2":56.4,"v":1.71},{"x":4,"x2":5,"y":56.4,"y2":65.8,"v":1.57},{"x":4,"x2":5,"y":65.8,"y2":75.2,"v":1.29},{"x":4,"x2":5,"y":75.2,"y2":84.6,"v":0.88},{"x":4,"x2":5,"y":84.6,"y2":94,"v":0.33},
{"x":-4,"x2":-3,"y":0,"y2":7.8,"v":0.43},{"x":-4,"x2":-3,"y":7.8,"y2":15.5,"v":1.15},{"x":-4,"x2":-3,"y":15.5,"y2":23.3,"v":1.69},{"x":-4,"x2":-3,"y":23.3,"y2":31,"v":2.05},{"x":-4,"x2":-3,"y":31,"y2":38.8,"v":2.23},{"x":-4,"x2":-3,"y":38.8,"y2":46.5,"v":2.23},{"x":-4,"x2":-3,"y":46.5,"y2":54.3,"v":2.05},{"x":-4,"x2":-3,"y":54.3,"y2":62,"v":1.69},{"x":-4,"x2":-3,"y":62,"y2":69.8,"v":1.15},{"x":-4,"x2":-3,"y":69.8,"y2":77.5,"v":0.43},
{"x":3,"x2":4,"y":0,"y2":7.8,"v":0.43},{"x":3,"x2":4,"y":7.8,"y2":15.5,"v":1.15},{"x":3,"x2":4,"y":15.5,"y2":23.3,"v":1.69},{"x":3,"x2":4,"y":23.3,"y2":31,"v":2.05},{"x":3,"x2":4,"y":31,"y2":38.8,"v":2.23},{"x":3,"x2":4,"y":38.8,"y2":46.5,"v":2.23},{"x":3,"x2":4,"y":46.5,"y2":54.3,"v":2.05},{"x":3,"x2":4,"y":54.3,"y2":62,"v":1.69},{"x":3,"x2":4,"y":62,"y2":69.8,"v":1.15},{"x":3,"x2":4,"y":69.8,"y2":77.5,"v":0.43},
{"x":-3,"x2":-2,"y":0,"y2":5.5,"v":0.66},{"x":-3,"x2":-2,"y":5.5,"y2":11,"v":1.76},{"x":-3,"x2":-2,"y":11,"y2":16.5,"v":2.59},{"x":-3,"x2":-2,"y":16.5,"y2":22,"v":3.14},{"x":-3,"x2":-2,"y":22,"y2":27.5,"v":3.42},{"x":-3,"x2":-2,"y":27.5,"y2":33,"v":3.42},{"x":-3,"x2":-2,"y":33,"y2":38.5,"v":3.14},{"x":-3,"x2":-2,"y":38.5,"y2":44,"v":2.59},{"x":-3,"x2":-2,"y":44,"y2":49.5,"v":1.76},{"x":-3,"x2":-2,"y":49.5,"y2":55,"v":0.66},
{"x":2,"x2":3,"y":0,"y2":5.5,"v":0.66},{"x":2,"x2":3,"y":5.5,"y2":11,"v":1.76},{"x":2,"x2":3,"y":11,"y2":16.5,"v":2.59},{"x":2,"x2":3,"y":16.5,"y2":22,"v":3.14},{"x":2,"x2":3,"y":22,"y2":27.5,"v":3.42},{"x":2,"x2":3,"y":27.5,"y2":33,"v":3.42},{"x":2,"x2":3,"y":33,"y2":38.5,"v":3.14},{"x":2,"x2":3,"y":38.5,"y2":44,"v":2.59},{"x":2,"x2":3,"y":44,"y2":49.5,"v":1.76},{"x":2,"x2":3,"y":49.5,"y2":55,"v":0.66},
{"x":-2,"x2":-1.5,"y":0,"y2":3.3,"v":1.03},{"x":-2,"x2":-1.5,"y":3.3,"y2":6.5,"v":2.77},{"x":-2,"x2":-1.5,"y":6.5,"y2":9.8,"v":4.08},{"x":-2,"x2":-1.5,"y":9.8,"y2":13,"v":4.95},{"x":-2,"x2":-1.5,"y":13,"y2":16.3,"v":5.38},{"x":-2,"x2":-1.5,"y":16.3,"y2":19.5,"v":5.38},{"x":-2,"x2":-1.5,"y":19.5,"y2":22.8,"v":4.95},{"x":-2,"x2":-1.5,"y":22.8,"y2":26,"v":4.08},{"x":-2,"x2":-1.5,"y":26,"y2":29.3,"v":2.77},{"x":-2,"x2":-1.5,"y":29.3,"y2":32.5,"v":1.03},
{"x":1.5,"x2":2,"y":0,"y2":3.3,"v":1.03},{"x":1.5,"x2":2,"y":3.3,"y2":6.5,"v":2.77},{"x":1.5,"x2":2,"y":6.5,"y2":9.8,"v":4.08},{"x":1.5,"x2":2,"y":9.8,"y2":13,"v":4.95},{"x":1.5,"x2":2,"y":13,"y2":16.3,"v":5.38},{"x":1.5,"x2":2,"y":16.3,"y2":19.5,"v":5.38},{"x":1.5,"x2":2,"y":19.5,"y2":22.8,"v":4.95},{"x":1.5,"x2":2,"y":22.8,"y2":26,"v":4.08},{"x":1.5,"x2":2,"y":26,"y2":29.3,"v":2.77},{"x":1.5,"x2":2,"y":29.3,"y2":32.5,"v":1.03},
{"x":-1.5,"x2":-1,"y":0,"y2":2.3,"v":1.48},{"x":-1.5,"x2":-1,"y":2.3,"y2":4.6,"v":3.96},{"x":-1.5,"x2":-1,"y":4.6,"y2":6.9,"v":5.83},{"x":-1.5,"x2":-1,"y":6.9,"y2":9.2,"v":7.07},{"x":-1.5,"x2":-1,"y":9.2,"y2":11.6,"v":7.69},{"x":-1.5,"x2":-1,"y":11.6,"y2":13.9,"v":7.69},{"x":-1.5,"x2":-1,"y":13.9,"y2":16.2,"v":7.07},{"x":-1.5,"x2":-1,"y":16.2,"y2":18.5,"v":5.83},{"x":-1.5,"x2":-1,"y":18.5,"y2":20.8,"v":3.96},{"x":-1.5,"x2":-1,"y":20.8,"y2":23.1,"v":1.48},
{"x":1,"x2":1.5,"y":0,"y2":2.3,"v":1.48},{"x":1,"x2":1.5,"y":2.3,"y2":4.6,"v":3.96},{"x":1,"x2":1.5,"y":4.6,"y2":6.9,"v":5.83},{"x":1,"x2":1.5,"y":6.9,"y2":9.2,"v":7.07},{"x":1,"x2":1.5,"y":9.2,"y2":11.6,"v":7.69},{"x":1,"x2":1.5,"y":11.6,"y2":13.9,"v":7.69},{"x":1,"x2":1.5,"y":13.9,"y2":16.2,"v":7.07},{"x":1,"x2":1.5,"y":16.2,"y2":18.5,"v":5.83},{"x":1,"x2":1.5,"y":18.5,"y2":20.8,"v":3.96},{"x":1,"x2":1.5,"y":20.8,"y2":23.1,"v":1.48},
{"x":-1,"x2":-0.5,"y":0,"y2":1.6,"v":2.13},{"x":-1,"x2":-0.5,"y":1.6,"y2":3.2,"v":5.71},{"x":-1,"x2":-0.5,"y":3.2,"y2":4.8,"v":8.4},{"x":-1,"x2":-0.5,"y":4.8,"y2":6.4,"v":10.19},{"x":-1,"x2":-0.5,"y":6.4,"y2":8,"v":11.08},{"x":-1,"x2":-0.5,"y":8,"y2":9.6,"v":11.08},{"x":-1,"x2":-0.5,"y":9.6,"y2":11.2,"v":10.19},{"x":-1,"x2":-0.5,"y":11.2,"y2":12.8,"v":8.4},{"x":-1,"x2":-0.5,"y":12.8,"y2":14.4,"v":5.71},{"x":-1,"x2":-0.5,"y":14.4,"y2":16,"v":2.13},
{"x":0.5,"x2":1,"y":0,"y2":1.6,"v":2.13},{"x":0.5,"x2":1,"y":1.6,"y2":3.2,"v":5.71},{"x":0.5,"x2":1,"y":3.2,"y2":4.8,"v":8.4},{"x":0.5,"x2":1,"y":4.8,"y2":6.4,"v":10.19},{"x":0.5,"x2":1,"y":6.4,"y2":8,"v":11.08},{"x":0.5,"x2":1,"y":8,"y2":9.6,"v":11.08},{"x":0.5,"x2":1,"y":9.6,"y2":11.2,"v":10.19},{"x":0.5,"x2":1,"y":11.2,"y2":12.8,"v":8.4},{"x":0.5,"x2":1,"y":12.8,"y2":14.4,"v":5.71},{"x":0.5,"x2":1,"y":14.4,"y2":16,"v":2.13},
{"x":-0.5,"x2":0.5,"y":0,"y2":1.2,"v":2.74},{"x":-0.5,"x2":0.5,"y":1.2,"y2":2.3,"v":7.36},{"x":-0.5,"x2":0.5,"y":2.3,"y2":3.5,"v":10.82},{"x":-0.5,"x2":0.5,"y":3.5,"y2":4.6,"v":13.12},{"x":-0.5,"x2":0.5,"y":4.6,"y2":5.8,"v":14.28},{"x":-0.5,"x2":0.5,"y":5.8,"y2":6.9,"v":14.28},{"x":-0.5,"x2":0.5,"y":6.9,"y2":8.1,"v":13.12},{"x":-0.5,"x2":0.5,"y":8.1,"y2":9.2,"v":10.82},{"x":-0.5,"x2":0.5,"y":9.2,"y2":10.4,"v":7.36},{"x":-0.5,"x2":0.5,"y":10.4,"y2":11.5,"v":2.74}],
"dots2":[{"x":-2.94,"y":174},{"x":-5.04,"y":153},{"x":-5.71,"y":131},{"x":-5.94,"y":118},{"x":-6,"y":110},{"x":-6,"y":106},{"x":-6,"y":102},{"x":-6,"y":100},{"x":3.45,"y":164},{"x":5.1,"y":143},{"x":5.68,"y":126},{"x":5.9,"y":115},{"x":5.97,"y":108},{"x":6,"y":104},{"x":6,"y":101},{"x":6,"y":100},{"x":0.19,"y":152},{"x":0.1,"y":128},{"x":0.03,"y":119}],
"dots4":[{"x":-2.62,"y":154},{"x":-4.69,"y":141},{"x":-5.52,"y":126},{"x":-5.84,"y":115},{"x":-5.94,"y":109},{"x":-5.97,"y":105},{"x":-6,"y":103},{"x":-6,"y":101},{"x":2.68,"y":143},{"x":4.18,"y":137},{"x":5.23,"y":127},{"x":5.68,"y":116},{"x":5.87,"y":110},{"x":5.94,"y":105},{"x":6,"y":102},{"x":6.03,"y":100},{"x":0.13,"y":129},{"x":0.03,"y":104},{"x":0,"y":91},{"x":0,"y":85}],
"dots6":[{"x":-3.13,"y":145},{"x":-4.79,"y":131},{"x":-5.46,"y":119},{"x":-5.75,"y":110},{"x":-5.84,"y":105},{"x":-5.9,"y":102},{"x":-5.9,"y":100},{"x":2.97,"y":149},{"x":4.85,"y":136},{"x":5.55,"y":121},{"x":5.87,"y":113},{"x":6,"y":107},{"x":6.03,"y":103},{"x":6.06,"y":100},{"x":-0.06,"y":123},{"x":-0.03,"y":96},{"x":0,"y":79},{"x":0,"y":68},{"x":0,"y":61},{"x":0,"y":58},{"x":0,"y":56}],
"dots8":[{"x":-2.87,"y":144},{"x":-4.69,"y":134},{"x":-5.46,"y":121},{"x":-5.78,"y":113},{"x":-5.9,"y":107},{"x":-5.97,"y":103},{"x":-6,"y":100},{"x":2.84,"y":141},{"x":4.6,"y":132},{"x":5.39,"y":120},{"x":5.71,"y":112},{"x":5.87,"y":107},{"x":5.94,"y":103},{"x":5.97,"y":100},{"x":0,"y":118},{"x":0,"y":90},{"x":0,"y":72},{"x":0,"y":59},{"x":0,"y":49},{"x":0,"y":41},{"x":0,"y":37},{"x":0,"y":34}],
"dots9":[{"x":-3.13,"y":145},{"x":-4.85,"y":132},{"x":-5.49,"y":119},{"x":-5.78,"y":111},{"x":-5.87,"y":106},{"x":-6,"y":103},{"x":-6,"y":100},{"x":3.13,"y":146},{"x":4.98,"y":133},{"x":5.62,"y":120},{"x":5.87,"y":112},{"x":6,"y":106},{"x":6.03,"y":103},{"x":6.06,"y":100},{"x":0,"y":120},{"x":0,"y":90},{"x":0,"y":71},{"x":0,"y":57},{"x":0,"y":46},{"x":0,"y":37},{"x":0,"y":30},{"x":0,"y":24},{"x":0,"y":21}],
"wall":[{"x":-12,"l2":100,"l4":100,"l6":100,"l8":100,"l9":100},{"x":-6,"l2":100,"l4":100,"l6":100,"l8":100,"l9":100},{"x":-5,"l2":98.7,"l4":97.3,"l6":96,"l8":94.6,"l9":94},{"x":-4,"l2":95,"l4":90,"l6":85,"l8":80,"l9":77.5},{"x":-3,"l2":90,"l4":80,"l6":70,"l8":60,"l9":55},{"x":-2,"l2":85,"l4":70,"l6":55,"l8":40,"l9":32.5},{"x":-1,"l2":81.3,"l4":62.7,"l6":44,"l8":25.4,"l9":16},{"x":0,"l2":80,"l4":60,"l6":40,"l8":20,"l9":10},{"x":1,"l2":81.3,"l4":62.7,"l6":44,"l8":25.4,"l9":16},{"x":2,"l2":85,"l4":70,"l6":55,"l8":40,"l9":32.5},{"x":3,"l2":90,"l4":80,"l6":70,"l8":60,"l9":55},{"x":4,"l2":95,"l4":90,"l6":85,"l8":80,"l9":77.5},{"x":5,"l2":98.7,"l4":97.3,"l6":96,"l8":94.6,"l9":94},{"x":6,"l2":100,"l4":100,"l6":100,"l8":100,"l9":100},{"x":12,"l2":100,"l4":100,"l6":100,"l8":100,"l9":100}],
"lines":[
{"s":1,"x":-7,"l2":19,"l4":19,"l6":19,"l8":19,"l9":19},{"s":1,"x":-6,"l2":19,"l4":19,"l6":19,"l8":19,"l9":19},{"s":1,"x":-4.5,"l2":18.4,"l4":17.9,"l6":17.3,"l8":16.8,"l9":16.5},{"s":1,"x":-3,"l2":17.1,"l4":15.2,"l6":13.3,"l8":11.4,"l9":10.5},{"s":1,"x":-1.5,"l2":15.8,"l4":12.5,"l6":9.3,"l8":6,"l9":4.4},{"s":1,"x":0,"l2":15.2,"l4":11.4,"l6":7.6,"l8":3.8,"l9":1.9},{"s":1,"x":1.5,"l2":15.8,"l4":12.5,"l6":9.3,"l8":6,"l9":4.4},{"s":1,"x":3,"l2":17.1,"l4":15.2,"l6":13.3,"l8":11.4,"l9":10.5},{"s":1,"x":4.5,"l2":18.4,"l4":17.9,"l6":17.3,"l8":16.8,"l9":16.5},{"s":1,"x":6,"l2":19,"l4":19,"l6":19,"l8":19,"l9":19},{"s":1,"x":7,"l2":19,"l4":19,"l6":19,"l8":19,"l9":19},
{"s":2,"x":-7,"l2":36,"l4":36,"l6":36,"l8":36,"l9":36},{"s":2,"x":-6,"l2":36,"l4":36,"l6":36,"l8":36,"l9":36},{"s":2,"x":-4.5,"l2":35,"l4":33.9,"l6":32.8,"l8":31.8,"l9":31.3},{"s":2,"x":-3,"l2":32.4,"l4":28.8,"l6":25.2,"l8":21.6,"l9":19.8},{"s":2,"x":-1.5,"l2":29.8,"l4":23.7,"l6":17.6,"l8":11.4,"l9":8.3},{"s":2,"x":0,"l2":28.8,"l4":21.6,"l6":14.4,"l8":7.2,"l9":3.6},{"s":2,"x":1.5,"l2":29.8,"l4":23.7,"l6":17.6,"l8":11.4,"l9":8.3},{"s":2,"x":3,"l2":32.4,"l4":28.8,"l6":25.2,"l8":21.6,"l9":19.8},{"s":2,"x":4.5,"l2":35,"l4":33.9,"l6":32.8,"l8":31.8,"l9":31.3},{"s":2,"x":6,"l2":36,"l4":36,"l6":36,"l8":36,"l9":36},{"s":2,"x":7,"l2":36,"l4":36,"l6":36,"l8":36,"l9":36},
{"s":3,"x":-7,"l2":50,"l4":50,"l6":50,"l8":50,"l9":50},{"s":3,"x":-6,"l2":50,"l4":50,"l6":50,"l8":50,"l9":50},{"s":3,"x":-4.5,"l2":48.6,"l4":47.1,"l6":45.6,"l8":44.2,"l9":43.5},{"s":3,"x":-3,"l2":45,"l4":40,"l6":35,"l8":30,"l9":27.5},{"s":3,"x":-1.5,"l2":41.5,"l4":32.9,"l6":24.4,"l8":15.9,"l9":11.6},{"s":3,"x":0,"l2":40,"l4":30,"l6":20,"l8":10,"l9":5},{"s":3,"x":1.5,"l2":41.5,"l4":32.9,"l6":24.4,"l8":15.9,"l9":11.6},{"s":3,"x":3,"l2":45,"l4":40,"l6":35,"l8":30,"l9":27.5},{"s":3,"x":4.5,"l2":48.6,"l4":47.1,"l6":45.6,"l8":44.2,"l9":43.5},{"s":3,"x":6,"l2":50,"l4":50,"l6":50,"l8":50,"l9":50},{"s":3,"x":7,"l2":50,"l4":50,"l6":50,"l8":50,"l9":50},
{"s":4,"x":-7,"l2":64,"l4":64,"l6":64,"l8":64,"l9":64},{"s":4,"x":-6,"l2":64,"l4":64,"l6":64,"l8":64,"l9":64},{"s":4,"x":-4.5,"l2":62.1,"l4":60.3,"l6":58.4,"l8":56.5,"l9":55.6},{"s":4,"x":-3,"l2":57.6,"l4":51.2,"l6":44.8,"l8":38.4,"l9":35.2},{"s":4,"x":-1.5,"l2":53.1,"l4":42.1,"l6":31.2,"l8":20.3,"l9":14.8},{"s":4,"x":0,"l2":51.2,"l4":38.4,"l6":25.6,"l8":12.8,"l9":6.4},{"s":4,"x":1.5,"l2":53.1,"l4":42.1,"l6":31.2,"l8":20.3,"l9":14.8},{"s":4,"x":3,"l2":57.6,"l4":51.2,"l6":44.8,"l8":38.4,"l9":35.2},{"s":4,"x":4.5,"l2":62.1,"l4":60.3,"l6":58.4,"l8":56.5,"l9":55.6},{"s":4,"x":6,"l2":64,"l4":64,"l6":64,"l8":64,"l9":64},{"s":4,"x":7,"l2":64,"l4":64,"l6":64,"l8":64,"l9":64},
{"s":5,"x":-7,"l2":81,"l4":81,"l6":81,"l8":81,"l9":81},{"s":5,"x":-6,"l2":81,"l4":81,"l6":81,"l8":81,"l9":81},{"s":5,"x":-4.5,"l2":78.7,"l4":76.3,"l6":73.9,"l8":71.5,"l9":70.4},{"s":5,"x":-3,"l2":72.9,"l4":64.8,"l6":56.7,"l8":48.6,"l9":44.6},{"s":5,"x":-1.5,"l2":67.1,"l4":53.3,"l6":39.5,"l8":25.7,"l9":18.7},{"s":5,"x":0,"l2":64.8,"l4":48.6,"l6":32.4,"l8":16.2,"l9":8.1},{"s":5,"x":1.5,"l2":67.1,"l4":53.3,"l6":39.5,"l8":25.7,"l9":18.7},{"s":5,"x":3,"l2":72.9,"l4":64.8,"l6":56.7,"l8":48.6,"l9":44.6},{"s":5,"x":4.5,"l2":78.7,"l4":76.3,"l6":73.9,"l8":71.5,"l9":70.4},{"s":5,"x":6,"l2":81,"l4":81,"l6":81,"l8":81,"l9":81},{"s":5,"x":7,"l2":81,"l4":81,"l6":81,"l8":81,"l9":81}],
"outer":[{"x":-12,"x2":-8,"y":19},{"x":8,"x2":12,"y":19},{"x":-12,"x2":-8,"y":36},{"x":8,"x2":12,"y":36},{"x":-12,"x2":-8,"y":50},{"x":8,"x2":12,"y":50},{"x":-12,"x2":-8,"y":64},{"x":8,"x2":12,"y":64},{"x":-12,"x2":-8,"y":81},{"x":8,"x2":12,"y":81}],
"full":[{"x":-12,"x2":12,"y":19},{"x":-12,"x2":12,"y":36},{"x":-12,"x2":12,"y":50},{"x":-12,"x2":12,"y":64},{"x":-12,"x2":12,"y":81}],
"box":[{"x":-12,"x2":12,"y":0,"y2":100}]},
"concat":[
{"width":251,"height":157,"title":"λ = 0","layer":[
{"data":{"name":"cells0"},"mark":"rect","encoding":{"x":{"field":"x","type":"quantitative","scale":{"domain":[-12,12],"nice":false},"axis":null},"x2":{"field":"x2"},"y":{"field":"y","type":"quantitative","scale":{"domain":[0,249.2],"nice":false},"axis":{"orient":"right","title":"Velocity magnitude"}},"y2":{"field":"y2"},"color":{"field":"v","type":"quantitative","scale":{"domain":[0,1.5],"range":["#3a2c9e","#3a44d8","#3070f0","#1e90e0","#10acc8","#10bbb0","#4cc38a","#a9bf5a","#e8b83e","#fec03a","#f8fa0f"]},"legend":{"title":null,"values":[0.001,0.5,1],"labelExpr":"datum.value<0.01?'0':format(datum.value,'.3~g')"}}}},
{"data":{"name":"cells0"},"mark":"rect","encoding":{"x":{"field":"x","type":"quantitative"},"x2":{"field":"x2"},"y":{"field":"y","type":"quantitative"},"y2":{"field":"y2"},"color":{"field":"v","type":"quantitative"}}},
{"data":{"name":"full"},"mark":{"type":"rule","color":"#333333","strokeWidth":0.5,"opacity":0.5},"encoding":{"x":{"field":"x","type":"quantitative"},"x2":{"field":"x2"},"y":{"field":"y","type":"quantitative"}}},
{"data":{"name":"box"},"mark":{"type":"rect","fill":null,"stroke":"#1a1a1a","strokeWidth":1},"encoding":{"x":{"field":"x","type":"quantitative"},"x2":{"field":"x2"},"y":{"field":"y","type":"quantitative"},"y2":{"field":"y2"}}}]},
{"width":251,"height":157,"title":"λ = 0.2","layer":[
{"data":{"name":"cells2"},"mark":"rect","encoding":{"x":{"field":"x","type":"quantitative","scale":{"domain":[-12,12],"nice":false},"axis":null},"x2":{"field":"x2"},"y":{"field":"y","type":"quantitative","scale":{"domain":[0,249.2],"nice":false},"axis":{"orient":"right","title":"Velocity magnitude"}},"y2":{"field":"y2"},"color":{"field":"v","type":"quantitative","scale":{"domain":[0,1.875],"range":["#3a2c9e","#3a44d8","#3070f0","#1e90e0","#10acc8","#10bbb0","#4cc38a","#a9bf5a","#e8b83e","#fec03a","#f8fa0f"]},"legend":{"title":null,"values":[0.001,0.5,1,1.5],"labelExpr":"datum.value<0.01?'0':format(datum.value,'.3~g')"}}}},
{"data":{"name":"cells2"},"mark":"rect","encoding":{"x":{"field":"x","type":"quantitative"},"x2":{"field":"x2"},"y":{"field":"y","type":"quantitative"},"y2":{"field":"y2"},"color":{"field":"v","type":"quantitative"}}},
{"data":{"name":"outer"},"mark":{"type":"rule","color":"#333333","strokeWidth":0.5,"opacity":0.5},"encoding":{"x":{"field":"x","type":"quantitative"},"x2":{"field":"x2"},"y":{"field":"y","type":"quantitative"}}},
{"data":{"name":"lines"},"mark":{"type":"line","color":"#333333","strokeWidth":0.6,"opacity":0.5,"strokeDash":[1,2.5],"interpolate":"monotone"},"encoding":{"x":{"field":"x","type":"quantitative"},"y":{"field":"l2","type":"quantitative"},"detail":{"field":"s"}}},
{"data":{"name":"box"},"mark":{"type":"rect","fill":null,"stroke":"#1a1a1a","strokeWidth":1},"encoding":{"x":{"field":"x","type":"quantitative"},"x2":{"field":"x2"},"y":{"field":"y","type":"quantitative"},"y2":{"field":"y2"}}},
{"data":{"name":"wall"},"mark":{"type":"area","color":"white","interpolate":"monotone"},"encoding":{"x":{"field":"x","type":"quantitative"},"y":{"field":"l2","type":"quantitative"},"y2":{"datum":103}}},
{"data":{"name":"wall"},"mark":{"type":"line","color":"#1a1a1a","strokeWidth":1,"interpolate":"monotone"},"encoding":{"x":{"field":"x","type":"quantitative"},"y":{"field":"l2","type":"quantitative"}}},
{"data":{"name":"dots2"},"mark":{"type":"circle","color":"#ff0000","size":13,"opacity":1},"encoding":{"x":{"field":"x","type":"quantitative"},"y":{"field":"y","type":"quantitative"}}}]},
{"width":251,"height":157,"title":"λ = 0.4","layer":[
{"data":{"name":"cells4"},"mark":"rect","encoding":{"x":{"field":"x","type":"quantitative","scale":{"domain":[-12,12],"nice":false},"axis":null},"x2":{"field":"x2"},"y":{"field":"y","type":"quantitative","scale":{"domain":[0,249.2],"nice":false},"axis":{"orient":"right","title":"Velocity magnitude"}},"y2":{"field":"y2"},"color":{"field":"v","type":"quantitative","scale":{"domain":[0,2.5],"range":["#3a2c9e","#3a44d8","#3070f0","#1e90e0","#10acc8","#10bbb0","#4cc38a","#a9bf5a","#e8b83e","#fec03a","#f8fa0f"]},"legend":{"title":null,"values":[0.001,0.5,1,1.5,2],"labelExpr":"datum.value<0.01?'0':format(datum.value,'.3~g')"}}}},
{"data":{"name":"cells4"},"mark":"rect","encoding":{"x":{"field":"x","type":"quantitative"},"x2":{"field":"x2"},"y":{"field":"y","type":"quantitative"},"y2":{"field":"y2"},"color":{"field":"v","type":"quantitative"}}},
{"data":{"name":"outer"},"mark":{"type":"rule","color":"#333333","strokeWidth":0.5,"opacity":0.5},"encoding":{"x":{"field":"x","type":"quantitative"},"x2":{"field":"x2"},"y":{"field":"y","type":"quantitative"}}},
{"data":{"name":"lines"},"mark":{"type":"line","color":"#333333","strokeWidth":0.6,"opacity":0.5,"strokeDash":[1,2.5],"interpolate":"monotone"},"encoding":{"x":{"field":"x","type":"quantitative"},"y":{"field":"l4","type":"quantitative"},"detail":{"field":"s"}}},
{"data":{"name":"box"},"mark":{"type":"rect","fill":null,"stroke":"#1a1a1a","strokeWidth":1},"encoding":{"x":{"field":"x","type":"quantitative"},"x2":{"field":"x2"},"y":{"field":"y","type":"quantitative"},"y2":{"field":"y2"}}},
{"data":{"name":"wall"},"mark":{"type":"area","color":"white","interpolate":"monotone"},"encoding":{"x":{"field":"x","type":"quantitative"},"y":{"field":"l4","type":"quantitative"},"y2":{"datum":103}}},
{"data":{"name":"wall"},"mark":{"type":"line","color":"#1a1a1a","strokeWidth":1,"interpolate":"monotone"},"encoding":{"x":{"field":"x","type":"quantitative"},"y":{"field":"l4","type":"quantitative"}}},
{"data":{"name":"dots4"},"mark":{"type":"circle","color":"#ff0000","size":13,"opacity":1},"encoding":{"x":{"field":"x","type":"quantitative"},"y":{"field":"y","type":"quantitative"}}}]},
{"width":251,"height":157,"title":"λ = 0.6","layer":[
{"data":{"name":"cells6"},"mark":"rect","encoding":{"x":{"field":"x","type":"quantitative","scale":{"domain":[-12,12],"nice":false},"axis":null},"x2":{"field":"x2"},"y":{"field":"y","type":"quantitative","scale":{"domain":[0,249.2],"nice":false},"axis":{"orient":"right","title":"Velocity magnitude"}},"y2":{"field":"y2"},"color":{"field":"v","type":"quantitative","scale":{"domain":[0,3.75],"range":["#3a2c9e","#3a44d8","#3070f0","#1e90e0","#10acc8","#10bbb0","#4cc38a","#a9bf5a","#e8b83e","#fec03a","#f8fa0f"]},"legend":{"title":null,"values":[0.001,1,2,3],"labelExpr":"datum.value<0.01?'0':format(datum.value,'.3~g')"}}}},
{"data":{"name":"cells6"},"mark":"rect","encoding":{"x":{"field":"x","type":"quantitative"},"x2":{"field":"x2"},"y":{"field":"y","type":"quantitative"},"y2":{"field":"y2"},"color":{"field":"v","type":"quantitative"}}},
{"data":{"name":"outer"},"mark":{"type":"rule","color":"#333333","strokeWidth":0.5,"opacity":0.5},"encoding":{"x":{"field":"x","type":"quantitative"},"x2":{"field":"x2"},"y":{"field":"y","type":"quantitative"}}},
{"data":{"name":"lines"},"mark":{"type":"line","color":"#333333","strokeWidth":0.6,"opacity":0.5,"strokeDash":[1,2.5],"interpolate":"monotone"},"encoding":{"x":{"field":"x","type":"quantitative"},"y":{"field":"l6","type":"quantitative"},"detail":{"field":"s"}}},
{"data":{"name":"box"},"mark":{"type":"rect","fill":null,"stroke":"#1a1a1a","strokeWidth":1},"encoding":{"x":{"field":"x","type":"quantitative"},"x2":{"field":"x2"},"y":{"field":"y","type":"quantitative"},"y2":{"field":"y2"}}},
{"data":{"name":"wall"},"mark":{"type":"area","color":"white","interpolate":"monotone"},"encoding":{"x":{"field":"x","type":"quantitative"},"y":{"field":"l6","type":"quantitative"},"y2":{"datum":103}}},
{"data":{"name":"wall"},"mark":{"type":"line","color":"#1a1a1a","strokeWidth":1,"interpolate":"monotone"},"encoding":{"x":{"field":"x","type":"quantitative"},"y":{"field":"l6","type":"quantitative"}}},
{"data":{"name":"dots6"},"mark":{"type":"circle","color":"#ff0000","size":13,"opacity":1},"encoding":{"x":{"field":"x","type":"quantitative"},"y":{"field":"y","type":"quantitative"}}}]},
{"width":251,"height":157,"title":"λ = 0.8","layer":[
{"data":{"name":"cells8"},"mark":"rect","encoding":{"x":{"field":"x","type":"quantitative","scale":{"domain":[-12,12],"nice":false},"axis":null},"x2":{"field":"x2"},"y":{"field":"y","type":"quantitative","scale":{"domain":[0,249.2],"nice":false},"axis":{"orient":"right","title":"Velocity magnitude"}},"y2":{"field":"y2"},"color":{"field":"v","type":"quantitative","scale":{"domain":[0,7.5],"range":["#3a2c9e","#3a44d8","#3070f0","#1e90e0","#10acc8","#10bbb0","#4cc38a","#a9bf5a","#e8b83e","#fec03a","#f8fa0f"]},"legend":{"title":null,"values":[0.001,2,4,6],"labelExpr":"datum.value<0.01?'0':format(datum.value,'.3~g')"}}}},
{"data":{"name":"cells8"},"mark":"rect","encoding":{"x":{"field":"x","type":"quantitative"},"x2":{"field":"x2"},"y":{"field":"y","type":"quantitative"},"y2":{"field":"y2"},"color":{"field":"v","type":"quantitative"}}},
{"data":{"name":"outer"},"mark":{"type":"rule","color":"#333333","strokeWidth":0.5,"opacity":0.5},"encoding":{"x":{"field":"x","type":"quantitative"},"x2":{"field":"x2"},"y":{"field":"y","type":"quantitative"}}},
{"data":{"name":"lines"},"mark":{"type":"line","color":"#333333","strokeWidth":0.6,"opacity":0.5,"strokeDash":[1,2.5],"interpolate":"monotone"},"encoding":{"x":{"field":"x","type":"quantitative"},"y":{"field":"l8","type":"quantitative"},"detail":{"field":"s"}}},
{"data":{"name":"box"},"mark":{"type":"rect","fill":null,"stroke":"#1a1a1a","strokeWidth":1},"encoding":{"x":{"field":"x","type":"quantitative"},"x2":{"field":"x2"},"y":{"field":"y","type":"quantitative"},"y2":{"field":"y2"}}},
{"data":{"name":"wall"},"mark":{"type":"area","color":"white","interpolate":"monotone"},"encoding":{"x":{"field":"x","type":"quantitative"},"y":{"field":"l8","type":"quantitative"},"y2":{"datum":103}}},
{"data":{"name":"wall"},"mark":{"type":"line","color":"#1a1a1a","strokeWidth":1,"interpolate":"monotone"},"encoding":{"x":{"field":"x","type":"quantitative"},"y":{"field":"l8","type":"quantitative"}}},
{"data":{"name":"dots8"},"mark":{"type":"circle","color":"#ff0000","size":13,"opacity":1},"encoding":{"x":{"field":"x","type":"quantitative"},"y":{"field":"y","type":"quantitative"}}}]},
{"width":251,"height":157,"title":"λ = 0.9","layer":[
{"data":{"name":"cells9"},"mark":"rect","encoding":{"x":{"field":"x","type":"quantitative","scale":{"domain":[-12,12],"nice":false},"axis":null},"x2":{"field":"x2"},"y":{"field":"y","type":"quantitative","scale":{"domain":[0,249.2],"nice":false},"axis":{"orient":"right","title":"Velocity magnitude"}},"y2":{"field":"y2"},"color":{"field":"v","type":"quantitative","scale":{"domain":[0,15],"range":["#3a2c9e","#3a44d8","#3070f0","#1e90e0","#10acc8","#10bbb0","#4cc38a","#a9bf5a","#e8b83e","#fec03a","#f8fa0f"]},"legend":{"title":null,"values":[0.001,5,10],"labelExpr":"datum.value<0.01?'0':format(datum.value,'.3~g')"}}}},
{"data":{"name":"cells9"},"mark":"rect","encoding":{"x":{"field":"x","type":"quantitative"},"x2":{"field":"x2"},"y":{"field":"y","type":"quantitative"},"y2":{"field":"y2"},"color":{"field":"v","type":"quantitative"}}},
{"data":{"name":"outer"},"mark":{"type":"rule","color":"#333333","strokeWidth":0.5,"opacity":0.5},"encoding":{"x":{"field":"x","type":"quantitative"},"x2":{"field":"x2"},"y":{"field":"y","type":"quantitative"}}},
{"data":{"name":"lines"},"mark":{"type":"line","color":"#333333","strokeWidth":0.6,"opacity":0.5,"strokeDash":[1,2.5],"interpolate":"monotone"},"encoding":{"x":{"field":"x","type":"quantitative"},"y":{"field":"l9","type":"quantitative"},"detail":{"field":"s"}}},
{"data":{"name":"box"},"mark":{"type":"rect","fill":null,"stroke":"#1a1a1a","strokeWidth":1},"encoding":{"x":{"field":"x","type":"quantitative"},"x2":{"field":"x2"},"y":{"field":"y","type":"quantitative"},"y2":{"field":"y2"}}},
{"data":{"name":"wall"},"mark":{"type":"area","color":"white","interpolate":"monotone"},"encoding":{"x":{"field":"x","type":"quantitative"},"y":{"field":"l9","type":"quantitative"},"y2":{"datum":103}}},
{"data":{"name":"wall"},"mark":{"type":"line","color":"#1a1a1a","strokeWidth":1,"interpolate":"monotone"},"encoding":{"x":{"field":"x","type":"quantitative"},"y":{"field":"l9","type":"quantitative"}}},
{"data":{"name":"dots9"},"mark":{"type":"circle","color":"#ff0000","size":13,"opacity":1},"encoding":{"x":{"field":"x","type":"quantitative"},"y":{"field":"y","type":"quantitative"}}}]}
]}
